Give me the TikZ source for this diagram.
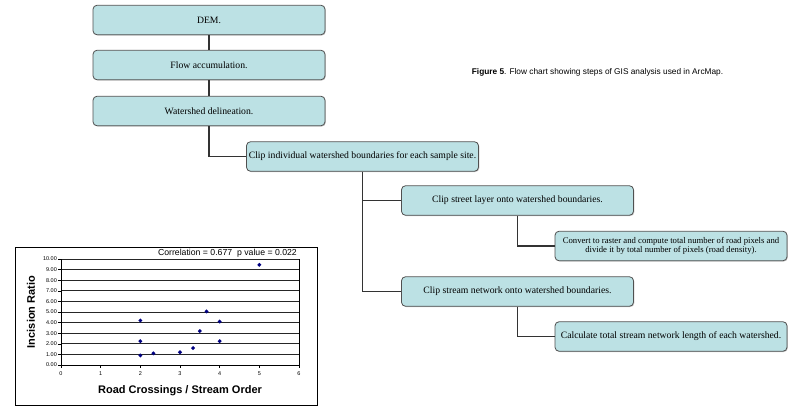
\documentclass[tikz,border=0pt]{standalone}
\usepackage{fontspec}
\setmainfont{Liberation Serif}
\setsansfont{Liberation Sans}
\usetikzlibrary{shapes.geometric,shadows}
\definecolor{boxfill}{HTML}{BCE1E4}
\definecolor{boxline}{HTML}{505050}
\definecolor{conn}{HTML}{333333}
\definecolor{mark}{HTML}{000080}
\tikzset{
  stepbox/.style={draw=boxline, line width=0.8pt, fill=boxfill, rounded corners=4pt,
    minimum width=232pt, minimum height=29.5pt, inner sep=0pt, align=center,
    drop shadow={shadow xshift=0.8pt, shadow yshift=-0.8pt, opacity=0.45},
    font=\fontsize{9.7}{11.5}\selectfont},
  smallbox/.style={stepbox, font=\fontsize{8.7}{9.6}\selectfont},
  link/.style={draw=conn, line width=1.1pt},
  grid line/.style={draw=black!85, line width=0.7pt},
  ticklab/.style={font=\sffamily\fontsize{5.5}{6.5}\selectfont, inner sep=0pt},
  axtitle/.style={font=\sffamily\bfseries\fontsize{11}{13}\selectfont, inner sep=0pt},
  datapt/.style={diamond, fill=mark, inner sep=0pt, minimum size=4.3pt},
}
\begin{document}
\begin{tikzpicture}[x=1pt, y=-1pt]
\useasboundingbox (0,0) rectangle (789,407);

% flow chart
\node[stepbox] (dem) at (209,20) {DEM.};
\node[stepbox] (flow) at (209,65) {Flow accumulation.};
\node[stepbox] (wsd) at (209,111) {Watershed delineation.};
\node[stepbox] (clipind) at (362.5,156.5) {Clip individual watershed boundaries for each sample site.};
\node[stepbox] (clipstreet) at (517.5,200.5) {Clip street layer onto watershed boundaries.};
\node[smallbox] (convert) at (671,246) {Convert to raster and compute total number of road pixels and\\ divide it by total number of pixels (road density).};
\node[stepbox] (clipstream) at (517.5,291.5) {Clip stream network onto watershed boundaries.};
\node[stepbox] (calc) at (671,336.5) {Calculate total stream network length of each watershed.};

\draw[link] (dem.south) -- (flow.north);
\draw[link] (flow.south) -- (wsd.north);
\draw[link] (wsd.south) |- (clipind.west);
\draw[link] (clipind.south) |- (clipstreet.west);
\draw[link] (clipind.south) |- (clipstream.west);
\draw[link] (clipstreet.south) |- (convert.west);
\draw[link] (clipstream.south) |- (calc.west);

% caption
\node[font=\sffamily\fontsize{8.3}{10}\selectfont, inner sep=0pt] (caption) at (597.5,72)
  {\textbf{Figure 5}. Flow chart showing steps of GIS analysis used in ArcMap.};

% chart
\node[draw=black, line width=0.8pt, minimum width=302pt, minimum height=158pt, inner sep=0pt] (chartframe) at (166,326) {};
\begin{scope}[shift={(61,365)}, x=39.667pt, y=10.6pt]
  \foreach \v in {1,...,10} {\draw[grid line] (0,\v) -- (6,\v);}
  \draw[black, line width=0.7pt] (0,0) -- (6,0) -- (6,10);
  \draw[black, line width=0.7pt] (0,0) -- (0,10);
  \foreach \v in {0,...,10} {
    \draw[black, line width=0.5pt] (0,\v) -- (-0.07,\v);
    \node[ticklab, anchor=east] at (-0.1,\v) {\v.00};
  }
  \foreach \v in {0,...,6} {
    \draw[black, line width=0.5pt] (\v,0) -- (\v,-0.3);
    \node[ticklab] at (\v,-0.8) {\v};
  }
  \foreach \px/\py in {2/4.2, 2/2.25, 2/0.9, 2.33/1.1, 3/1.2, 3.33/1.6, 3.5/3.2, 3.67/5.05, 4/4.1, 4/2.25, 5/9.45}
    \node[datapt] at (\px,\py) {};
  \node[font=\sffamily\fontsize{8.7}{10}\selectfont, inner sep=0pt, anchor=south east] (corr) at (5.95,10.15) {Correlation = 0.677\ \ p value = 0.022};
\end{scope}
\node[axtitle, rotate=90] (ylab) at (31,312) {Incision Ratio};
\node[axtitle] (xlab) at (180,391) {Road Crossings / Stream Order};
\end{tikzpicture}
\end{document}
